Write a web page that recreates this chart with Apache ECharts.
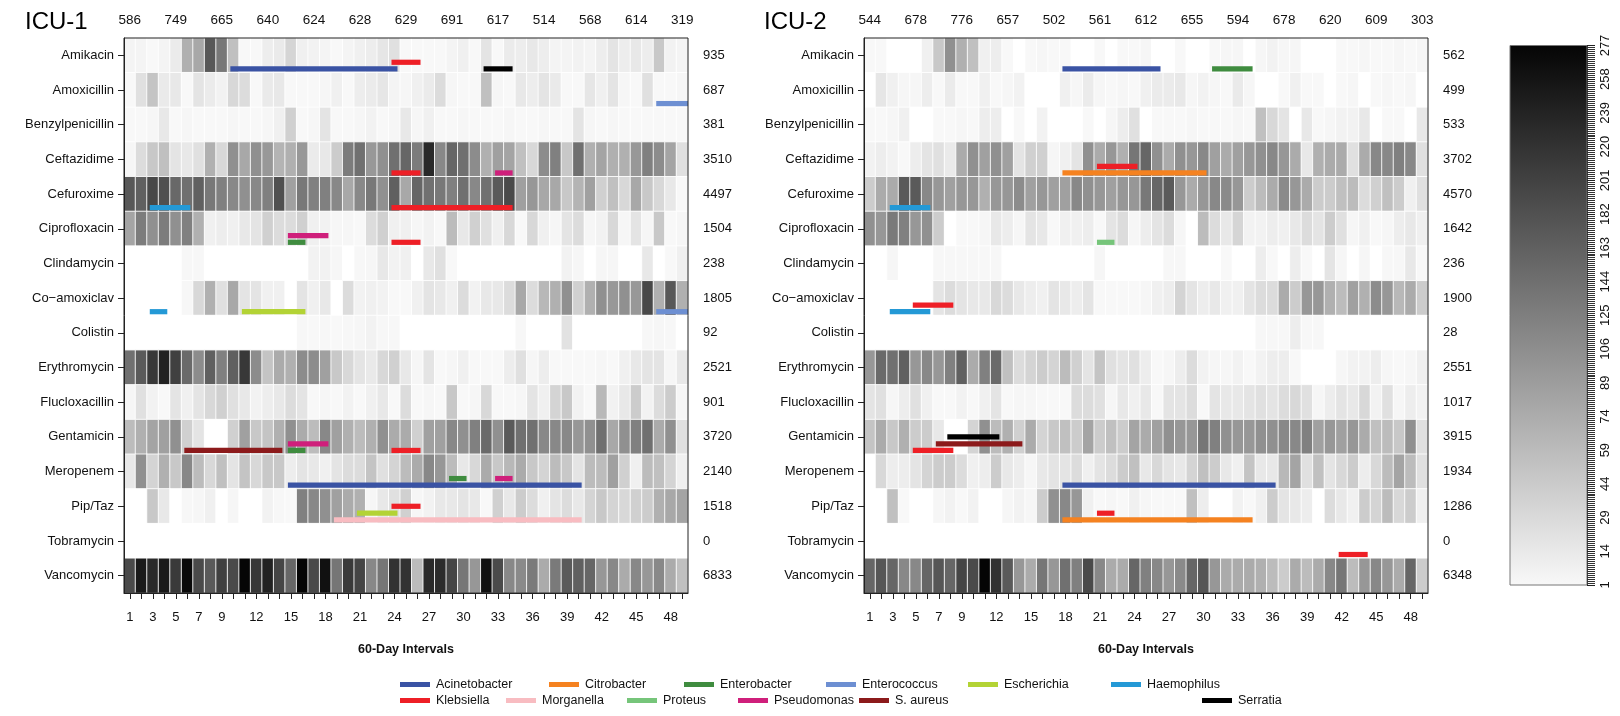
<!DOCTYPE html>
<html><head><meta charset="utf-8">
<script src="https://cdn.jsdelivr.net/npm/echarts@6/dist/echarts.min.js"></script>
<style>html,body{margin:0;padding:0;background:#fff}#c{width:1620px;height:716px}</style>
</head><body><div id="c"></div>
<script>
// ---------- categories & labels ----------
const drugs = ['Amikacin','Amoxicillin','Benzylpenicillin','Ceftazidime','Cefuroxime','Ciprofloxacin','Clindamycin','Co\u2212amoxiclav','Colistin','Erythromycin','Flucloxacillin','Gentamicin','Meropenem','Pip/Taz','Tobramycin','Vancomycin'];
const intervals = Array.from({length: 49}, (_, i) => String(i + 1));
const bottomTickLabels = [1,3,5,7,9,12,15,18,21,24,27,30,33,36,39,42,45,48];
const icu1TopLabels = [586,749,665,640,624,628,629,691,617,514,568,614,319];
const icu2TopLabels = [544,678,776,657,502,561,612,655,594,678,620,609,303];
const icu1Totals = [935,687,381,3510,4497,1504,238,1805,92,2521,901,3720,2140,1518,0,6833];
const icu2Totals = [562,499,533,3702,4570,1642,236,1900,28,2551,1017,3915,1934,1286,0,6348];
const colorbarTicks = [1,14,29,44,59,74,89,106,125,144,163,182,201,220,239,258,277];
const organisms = ['Acinetobacter','Citrobacter','Enterobacter','Enterococcus','Escherichia','Haemophilus','Klebsiella','Morganella','Proteus','Pseudomonas','S. aureus','Serratia'];

// ---------- ICU-1 values (49 intervals) ----------
const icu1_Amikacin = [4,4,1,4,12,70,78,173,133,54,1,1,10,13,34,8,6,4,1,4,8,10,17,23,1,1,1,1,4,8,1,19,1,12,10,15,10,4,4,6,4,10,19,10,15,10,46,6,4];
const icu1_Amoxicillin = [1,23,50,13,15,1,19,12,6,31,27,1,13,15,1,1,1,3,8,1,10,12,17,4,3,8,12,27,3,1,1,54,3,1,15,10,19,13,1,1,17,8,19,3,1,23,1,1,3];
const icu1_Benzylpenicillin = [1,1,3,15,1,3,1,1,1,3,1,1,3,8,38,1,3,19,1,1,3,6,1,3,15,3,8,1,1,3,1,1,1,3,1,1,3,1,1,19,3,1,3,1,1,1,1,1,1];
const icu1_Ceftazidime = [3,27,46,54,19,15,23,70,31,103,78,103,94,66,70,94,12,15,42,128,143,94,103,143,155,128,232,113,155,143,108,70,86,82,54,31,108,123,46,143,70,82,70,70,94,123,108,82,23];
const icu1_Cefuroxime = [173,163,193,183,153,143,163,133,123,113,103,113,123,183,86,133,123,123,113,78,113,133,103,163,78,155,143,133,123,143,113,143,170,190,86,96,78,78,46,66,86,38,54,31,78,46,31,15,1];
const icu1_Ciprofloxacin = [82,128,103,128,103,123,70,8,10,8,15,19,38,27,27,38,8,6,3,3,1,27,38,8,8,3,6,1,58,15,38,23,8,31,1,31,8,3,19,27,3,6,31,3,19,3,46,1,3];
const icu1_Clindamycin = [0,0,0,0,0,2,2,0,0,0,0,0,0,0,0,0,6,6,3,0,2,3,15,6,8,0,15,23,1,0,0,0,0,0,0,0,0,0,6,3,0,3,3,0,0,15,0,1,8];
const icu1_Coamoxiclav = [0,0,0,0,0,2,31,70,23,78,19,19,8,8,0,19,8,15,0,27,6,8,6,1,1,8,19,15,8,27,6,15,15,27,78,27,62,70,103,38,70,103,94,103,94,193,70,173,70];
const icu1_Colistin = [0,0,0,0,0,0,0,0,0,0,0,0,0,0,0,2,1,2,1,2,3,6,2,2,0,0,0,0,0,0,0,0,0,0,2,0,0,0,21,0,0,0,0,0,0,2,3,2,0];
const icu1_Erythromycin = [143,170,213,241,203,150,108,163,123,163,213,108,50,75,70,108,108,86,46,31,19,14,31,38,15,3,19,1,3,8,1,1,1,10,23,3,10,1,1,1,1,3,1,8,15,19,19,3,15];
const icu1_Flucloxacillin = [3,23,6,1,19,8,19,31,38,23,15,6,10,15,27,19,1,3,1,6,1,8,15,1,27,1,3,1,46,1,3,31,1,1,3,19,8,35,46,6,1,62,6,15,42,6,27,42,3];
const icu1_Gentamicin = [58,70,82,86,103,38,19,0,0,38,86,46,50,70,103,75,58,113,86,70,58,70,103,75,75,38,86,86,113,103,123,150,103,170,143,143,113,113,113,96,103,143,78,103,123,143,75,103,23];
const icu1_Meropenem = [15,103,35,70,46,113,58,31,54,19,50,31,46,46,10,19,15,8,19,27,27,50,23,35,58,75,113,96,58,15,31,75,46,62,75,46,35,58,46,19,58,58,86,38,8,58,54,35,8];
const icu1_PipTaz = [0,0,46,15,0,2,3,8,0,3,0,0,6,2,1,123,113,103,86,75,70,3,15,23,38,3,6,15,15,19,15,1,38,15,42,27,8,19,27,15,35,46,35,31,38,42,70,78,82];
const icu1_Tobramycin = [0,0,0,0,0,0,0,0,0,0,0,0,0,0,0,0,0,0,0,0,0,0,0,0,0,0,0,0,0,0,0,0,0,0,0,0,0,0,0,0,0,0,0,0,0,0,0,0,0];
const icu1_Vancomycin = [190,250,231,250,211,270,190,170,203,190,276,213,241,197,156,277,190,262,135,211,197,113,135,220,220,58,231,228,197,135,96,262,190,113,110,130,75,130,170,163,156,96,113,75,113,96,113,75,54];

// ---------- ICU-2 values (49 intervals) ----------
const icu2_Amikacin = [1,1,0,0,0,8,46,103,70,54,8,10,1,0,1,3,1,1,0,0,1,0,1,1,3,0,0,1,0,0,1,3,3,0,3,6,3,3,0,0,0,1,1,3,1,1,3,1,3];
const icu2_Amoxicillin = [0,17,8,3,3,10,1,12,1,1,8,1,3,6,0,0,0,8,3,12,3,1,3,1,8,12,12,15,3,6,3,1,13,3,0,0,1,8,1,1,0,1,3,0,1,3,1,3,0];
const icu2_Benzylpenicillin = [1,1,3,8,0,0,1,1,3,1,10,10,0,1,0,6,0,0,0,1,0,3,10,23,0,1,1,1,3,1,1,1,3,1,54,31,19,0,15,1,3,6,6,15,0,1,1,0,15];
const icu2_Ceftazidime = [6,10,6,1,10,19,23,13,75,103,86,103,86,19,38,38,3,8,19,103,75,96,70,135,155,103,75,103,96,113,86,75,86,96,103,113,96,75,15,70,75,75,23,75,113,113,123,113,23];
const icu2_Cefuroxime = [42,75,75,170,170,113,96,86,96,96,70,96,96,108,86,96,86,86,113,103,96,86,96,96,133,155,170,96,75,96,113,110,96,42,58,75,110,96,75,42,42,54,58,27,38,54,42,8,23];
const icu2_Ciprofloxacin = [103,96,130,123,96,103,42,0,1,1,3,15,10,3,19,15,1,8,8,10,1,19,27,3,10,19,27,3,0,58,27,15,34,6,6,10,8,15,27,19,42,23,3,8,1,3,10,15,8];
const icu2_Clindamycin = [0,0,3,0,0,0,2,2,2,2,2,2,0,0,0,0,0,0,0,0,3,0,0,0,0,0,2,2,0,0,0,1,0,0,10,1,0,10,1,0,19,3,0,3,0,2,2,15,1];
const icu2_Coamoxiclav = [0,0,0,0,0,0,19,27,19,15,15,31,27,15,10,8,19,15,10,19,1,1,1,1,3,8,10,35,19,10,15,8,8,19,27,27,75,42,96,96,70,58,86,70,108,96,62,75,42];
const icu2_Colistin = [0,0,0,0,0,0,0,0,0,0,0,0,0,0,0,0,0,0,0,0,0,0,0,0,0,0,0,0,0,0,0,0,0,0,2,2,2,10,2,2,0,0,0,0,0,0,0,0,0];
const icu2_Erythromycin = [96,150,143,163,96,113,96,123,163,75,123,150,54,27,35,42,35,58,38,19,50,23,19,23,10,1,3,10,27,6,3,3,6,1,6,10,10,1,0,0,0,3,6,6,10,3,1,3,8];
const icu2_Flucloxacillin = [19,23,3,10,23,8,1,1,6,1,8,19,1,3,3,1,1,1,27,27,23,3,15,8,15,1,19,19,27,1,19,15,15,19,23,19,27,31,23,3,10,19,15,31,6,23,3,10,6];
const icu2_Gentamicin = [50,75,46,70,42,42,15,0,0,35,103,58,70,38,75,35,46,54,42,82,42,54,42,82,75,86,103,96,96,135,123,103,96,96,103,103,113,113,123,86,96,86,96,75,54,58,46,103,23];
const icu2_Meropenem = [0,31,10,10,19,35,42,42,27,8,10,42,15,10,3,15,19,19,27,8,19,27,42,54,15,31,19,15,35,54,42,15,8,50,15,15,62,82,23,54,19,31,42,10,31,58,82,58,23];
const icu2_PipTaz = [0,0,54,1,0,0,3,6,1,6,0,0,3,6,3,42,103,113,96,8,1,3,1,8,3,1,1,1,54,10,0,0,6,1,8,42,19,15,10,0,27,15,8,42,35,58,31,42,8];
const icu2_Tobramycin = [0,0,0,0,0,0,0,0,0,0,0,0,0,0,0,0,0,0,0,0,0,0,0,0,0,0,0,0,0,0,0,0,0,0,0,0,0,0,0,0,0,0,0,0,0,0,0,0,0];
const icu2_Vancomycin = [156,176,156,113,113,156,176,156,197,190,277,220,170,96,75,135,96,143,123,190,113,75,75,156,123,113,96,110,156,176,96,75,75,75,70,58,42,75,58,75,113,135,58,96,113,96,75,156,42];

// ---------- organism presence segments: [organism, drug, first interval, last interval, lane] ----------
const icu1Segments = [
  ['Klebsiella','Amikacin',24,26,2], ['Acinetobacter','Amikacin',10,24,1], ['Serratia','Amikacin',32,34,1],
  ['Enterococcus','Amoxicillin',47,49,1],
  ['Klebsiella','Ceftazidime',24,26,1], ['Pseudomonas','Ceftazidime',33,34,1],
  ['Haemophilus','Cefuroxime',3,6,1], ['Klebsiella','Cefuroxime',24,34,1],
  ['Pseudomonas','Ciprofloxacin',15,18,2], ['Enterobacter','Ciprofloxacin',15,16,1], ['Klebsiella','Ciprofloxacin',24,26,1],
  ['Haemophilus','Co\u2212amoxiclav',3,4,1], ['Escherichia','Co\u2212amoxiclav',11,16,1], ['Enterococcus','Co\u2212amoxiclav',47,49,1],
  ['Pseudomonas','Gentamicin',15,18,2], ['S. aureus','Gentamicin',6,14,1], ['Enterobacter','Gentamicin',15,16,1], ['Klebsiella','Gentamicin',24,26,1],
  ['Acinetobacter','Meropenem',15,40,1], ['Enterobacter','Meropenem',29,30,2], ['Pseudomonas','Meropenem',33,34,2],
  ['Klebsiella','Pip/Taz',24,26,3], ['Escherichia','Pip/Taz',21,24,2], ['Morganella','Pip/Taz',19,40,1]
];
const icu2Segments = [
  ['Acinetobacter','Amikacin',18,26,1], ['Enterobacter','Amikacin',31,34,1],
  ['Klebsiella','Ceftazidime',21,24,2], ['Citrobacter','Ceftazidime',18,30,1],
  ['Haemophilus','Cefuroxime',3,6,1],
  ['Proteus','Ciprofloxacin',21,22,1],
  ['Klebsiella','Co\u2212amoxiclav',5,8,2], ['Haemophilus','Co\u2212amoxiclav',3,6,1],
  ['Serratia','Gentamicin',8,12,3], ['S. aureus','Gentamicin',7,14,2], ['Klebsiella','Gentamicin',5,8,1],
  ['Acinetobacter','Meropenem',18,36,1],
  ['Klebsiella','Pip/Taz',21,22,2], ['Citrobacter','Pip/Taz',18,34,1],
  ['Klebsiella','Tobramycin',42,44,1]
];

// ---------- assembly ----------
const icu1Rows = [icu1_Amikacin,icu1_Amoxicillin,icu1_Benzylpenicillin,icu1_Ceftazidime,icu1_Cefuroxime,icu1_Ciprofloxacin,icu1_Clindamycin,icu1_Coamoxiclav,icu1_Colistin,icu1_Erythromycin,icu1_Flucloxacillin,icu1_Gentamicin,icu1_Meropenem,icu1_PipTaz,icu1_Tobramycin,icu1_Vancomycin];
const icu2Rows = [icu2_Amikacin,icu2_Amoxicillin,icu2_Benzylpenicillin,icu2_Ceftazidime,icu2_Cefuroxime,icu2_Ciprofloxacin,icu2_Clindamycin,icu2_Coamoxiclav,icu2_Colistin,icu2_Erythromycin,icu2_Flucloxacillin,icu2_Gentamicin,icu2_Meropenem,icu2_PipTaz,icu2_Tobramycin,icu2_Vancomycin];

const orgColors = {
  'Acinetobacter':'#3a53a4','Citrobacter':'#f58220','Enterobacter':'#3f8c3f','Enterococcus':'#6d8fd2',
  'Escherichia':'#b3d335','Haemophilus':'#2499d6','Klebsiella':'#ee1f26','Morganella':'#f8bcc1',
  'Proteus':'#76c57a','Pseudomonas':'#cf1f7b','S. aureus':'#8c1a1b','Serratia':'#000000'
};

// colour scale: ticks are evenly spaced along the bar, grey is linear along the bar
function levelOf(v) {
  if (v <= colorbarTicks[0]) return 0;
  for (let i = 0; i < colorbarTicks.length - 1; i++) {
    if (v <= colorbarTicks[i + 1]) return i + (v - colorbarTicks[i]) / (colorbarTicks[i + 1] - colorbarTicks[i]);
  }
  return colorbarTicks.length - 1;
}
function greyHex(g) { const h = Math.max(0, Math.min(255, Math.round(g))).toString(16).padStart(2, '0'); return '#' + h + h + h; }
const palette = [];
for (let v = 0; v <= 277; v++) palette.push(v === 0 ? '#ffffff' : greyHex(248 - 15.2 * levelOf(v)));

function cells(rows) { const out = []; rows.forEach((arr, r) => arr.forEach((v, c) => out.push([c, r, v]))); return out; }

const FONT = '"Liberation Sans", Arial, Helvetica, sans-serif';
const TXT = '#111';
const lastIdx = intervals.length - 1;

function renderSeg(params, api) {
  const row = api.value(2);
  const p0 = api.coord([api.value(0), row]);
  const p1 = api.coord([api.value(1), row]);
  const rh = api.size([0, 1])[1];
  const off = [0, 0.39, 0.2, 0.0][api.value(3)];
  const cs = params.coordSys;
  const yc = p0[1] + rh * off;
  const x0 = p0[0] - 3;
  const x1 = api.value(1) >= lastIdx ? cs.x + cs.width : p1[0] + 3;
  return { type: 'rect', shape: { x: x0, y: yc - 2.6, width: x1 - x0, height: 5.2 }, style: { fill: api.visual('color') } };
}

function segSeries(segs, axisIdx) {
  return organisms.map(org => ({
    type: 'custom', name: org, xAxisIndex: axisIdx.x, yAxisIndex: axisIdx.y,
    renderItem: renderSeg, itemStyle: { color: orgColors[org] }, color: orgColors[org],
    encode: { x: [0, 1], y: 2 }, z: 10, silent: true, animation: false,
    data: segs.filter(s => s[0] === org).map(s => [s[2] - 1, s[3] - 1, drugs.indexOf(s[1]), s[4]])
  }));
}

const grids = [
  { left: 124, top: 38, width: 564, height: 555, show: true, borderColor: '#222', borderWidth: 1, backgroundColor: 'transparent', z: 12 },
  { left: 864, top: 38, width: 564, height: 555, show: true, borderColor: '#222', borderWidth: 1, backgroundColor: 'transparent', z: 12 },
  { left: 1510, top: 45.5, width: 77, height: 539.5, show: true, borderColor: '#777', borderWidth: 1, backgroundColor: 'transparent', z: 12 }
];

function bottomAxis(gi) {
  return { type: 'category', gridIndex: gi, data: intervals, position: 'bottom', boundaryGap: true, z: 12,
    axisLine: { show: true, lineStyle: { color: '#222', width: 1 } },
    axisTick: { show: true, interval: 0, alignWithLabel: true, length: 6, lineStyle: { color: '#222' } },
    axisLabel: { interval: (i) => bottomTickLabels.includes(i + 1), fontSize: 13, color: TXT, margin: 18, fontFamily: FONT },
    splitLine: { show: false },
    name: '60-Day Intervals', nameLocation: 'middle', nameGap: 50,
    nameTextStyle: { fontWeight: 'bold', fontSize: 12.5, color: TXT, fontFamily: FONT } };
}
function topAxis(gi, labels) {
  return { type: 'category', gridIndex: gi, data: intervals, position: 'top', boundaryGap: true,
    axisLine: { show: false }, axisTick: { show: false }, splitLine: { show: false },
    axisLabel: { interval: 0, formatter: (v, i) => (i % 4 === 0 ? String(labels[i / 4]) : ''), fontSize: 13.5, color: TXT, margin: 11, fontFamily: FONT } };
}
function leftAxis(gi) {
  return { type: 'category', gridIndex: gi, data: drugs, inverse: true, position: 'left', z: 12,
    axisLine: { show: true, lineStyle: { color: '#222' } },
    axisTick: { show: true, alignWithLabel: true, length: 6, lineStyle: { color: '#222' } },
    axisLabel: { fontSize: 13, color: TXT, margin: 10, fontFamily: FONT }, splitLine: { show: false } };
}
function rightAxis(gi, totals) {
  return { type: 'category', gridIndex: gi, data: drugs, inverse: true, position: 'right',
    axisLine: { show: false }, axisTick: { show: false }, splitLine: { show: false },
    axisLabel: { formatter: (v, i) => String(totals[i]), align: 'left', margin: 15, fontSize: 13, color: TXT, fontFamily: FONT } };
}

const legendPos = [[400,685],[549,685],[684,685],[826,685],[968,685],[1111,685],[400,701],[506,701],[627,701],[738,701],[859,701],[1202,701]];
const legends = organisms.map((org, i) => ({
  left: legendPos[i][0], top: legendPos[i][1] - 7, data: [org], icon: 'rect', itemWidth: 30, itemHeight: 5,
  selectedMode: false, padding: 0, itemGap: 0, textStyle: { fontSize: 12.5, color: TXT, fontFamily: FONT, padding: [0, 0, 0, 1] }
}));

const heatStyle = { borderColor: 'rgba(255,255,255,0.85)', borderWidth: 1 };

const option = {
  animation: false,
  backgroundColor: '#ffffff',
  textStyle: { fontFamily: FONT },
  title: [
    { text: 'ICU-1', left: 20, top: 5, textStyle: { fontSize: 24, fontWeight: 'normal', color: '#000', fontFamily: FONT } },
    { text: 'ICU-2', left: 759, top: 5, textStyle: { fontSize: 24, fontWeight: 'normal', color: '#000', fontFamily: FONT } }
  ],
  legend: legends,
  grid: grids,
  xAxis: [bottomAxis(0), topAxis(0, icu1TopLabels), bottomAxis(1), topAxis(1, icu2TopLabels),
    { type: 'category', gridIndex: 2, data: ['scale'], show: false }],
  yAxis: [leftAxis(0), rightAxis(0, icu1Totals), leftAxis(1), rightAxis(1, icu2Totals),
    { type: 'value', gridIndex: 2, min: 0, max: 16, interval: 1, position: 'right', z: 12,
      axisLine: { show: true, lineStyle: { color: '#444' } },
      axisTick: { show: true, length: 8, lineStyle: { color: '#222' } },
      minorTick: { show: true, splitNumber: 17, length: 8, lineStyle: { color: '#333' } },
      splitLine: { show: false },
      axisLabel: { formatter: (v) => String(colorbarTicks[Math.round(v)]), rotate: 90, fontSize: 13, margin: 12, color: TXT, fontFamily: FONT } }],
  visualMap: [{ type: 'continuous', show: false, min: 0, max: 277, dimension: 2, seriesIndex: [0, 1], inRange: { color: palette } }],
  series: [
    { type: 'heatmap', name: 'ICU-1', xAxisIndex: 0, yAxisIndex: 0, data: cells(icu1Rows), itemStyle: heatStyle, emphasis: { disabled: true }, silent: true, progressive: 0 },
    { type: 'heatmap', name: 'ICU-2', xAxisIndex: 2, yAxisIndex: 2, data: cells(icu2Rows), itemStyle: heatStyle, emphasis: { disabled: true }, silent: true, progressive: 0 },
    { type: 'bar', xAxisIndex: 4, yAxisIndex: 4, data: [16], barWidth: '100%', silent: true,
      itemStyle: { color: new echarts.graphic.LinearGradient(0, 0, 0, 1, [{ offset: 0, color: '#050505' }, { offset: 1, color: '#f8f8f8' }]) } },
    ...segSeries(icu1Segments, { x: 0, y: 0 }),
    ...segSeries(icu2Segments, { x: 2, y: 2 })
  ]
};

const chart = echarts.init(document.getElementById('c'), null, { renderer: 'canvas' });
chart.setOption(option);
</script>
</body></html>
